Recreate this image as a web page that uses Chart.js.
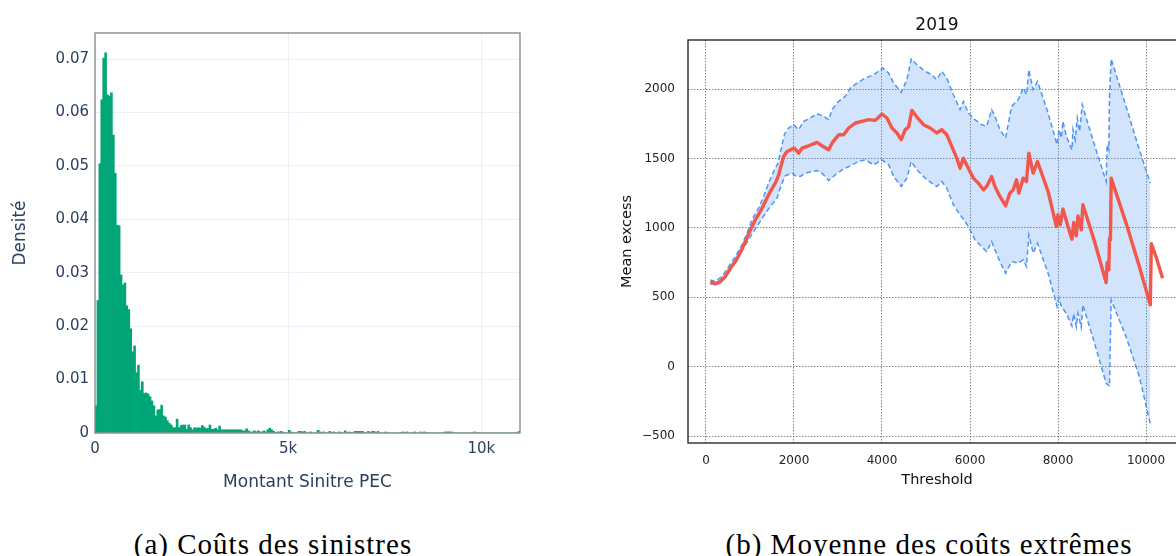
<!DOCTYPE html>
<html>
<head>
<meta charset="utf-8">
<script src="https://cdn.jsdelivr.net/npm/chart.js@4.4.0/dist/chart.umd.min.js"></script>
<style>
  html, body { margin: 0; padding: 0; background: #fff; overflow: hidden; }
  #page { position: relative; width: 1176px; height: 556px; overflow: hidden; }
  #histChart { position: absolute; left: 0; top: 0; }
  #excessChart { position: absolute; left: 600px; top: 0; }
  .caption {
    position: absolute; top: 528px; width: 500px; text-align: center;
    font-family: "Liberation Serif", serif; font-size: 29px; letter-spacing: 1px;
    line-height: 32px; color: #000;
  }
</style>
</head>
<body>
<div id="page">
  <canvas id="histChart" width="560" height="500"></canvas>
  <canvas id="excessChart" width="600" height="500"></canvas>
  <div class="caption" style="left: 23px;">(a) Coûts des sinistres</div>
  <div class="caption" style="left: 679px;">(b) Moyenne des coûts extrêmes</div>
</div>
<script>
// (a) histogram of claim amounts, bins of 50
const histBinWidth = 50;
const histDensity = [
  0.0051, 0.0248, 0.0504, 0.0624, 0.0702, 0.0712, 0.0633, 0.0631, 0.0637, 0.0558,
  0.0486, 0.0389, 0.0388, 0.0296, 0.0277, 0.0281, 0.0238, 0.0231, 0.0195, 0.0152,
  0.0163, 0.0113, 0.0127, 0.0080, 0.0096, 0.0074, 0.0075, 0.0073, 0.0068, 0.0060,
  0.0051, 0.0032, 0.0043, 0.0044, 0.0052, 0.0032, 0.0030, 0.0023, 0.0018, 0.0015,
  0.0010, 0.0010, 0.0026, 0.0010, 0.0014, 0.0015, 0.0015, 0.0007, 0.0015, 0.0010,
  0.0006, 0.0010, 0.0009, 0.0010, 0.0009, 0.0014, 0.0011, 0.0008, 0.0009, 0.0015,
  0.0007, 0.0007, 0.0009, 0.0006, 0.0013, 0.0006, 0.0006, 0.0006, 0.0006, 0.0006,
  0.0006, 0.0006, 0.0006, 0.0006, 0.0006, 0.0006, 0.0004, 0.0004, 0.0008, 0.0004,
  0.0002, 0.0002, 0.0004, 0.0002, 0.0004, 0.0002, 0.0002, 0.0004, 0.0002, 0.0006,
  0.0009, 0.0006, 0.0003, 0.0001, 0.0002, 0.0002, 0.0003, 0.0001, 0, 0,
  0.0005, 0.0002, 0, 0, 0, 0.0003, 0.0003, 0.0002, 0.0003, 0,
  0, 0.0002, 0, 0, 0, 0.0005, 0.0002, 0, 0.0002, 0,
  0, 0.0003, 0, 0.0002, 0, 0, 0.0002, 0, 0, 0.0004,
  0, 0.0002, 0, 0, 0.0003, 0.0003, 0.0003, 0.0003, 0.0003, 0,
  0, 0.0003, 0, 0.0003, 0.0003, 0, 0.0003, 0, 0, 0,
  0.0002, 0, 0, 0, 0, 0, 0, 0, 0, 0.0002,
  0, 0.0002, 0, 0, 0, 0.0002, 0, 0, 0.0002, 0,
  0.0002, 0, 0, 0, 0, 0, 0, 0, 0, 0,
  0, 0.0002, 0.0002, 0.0002, 0.0002, 0, 0, 0, 0, 0,
  0, 0, 0, 0, 0, 0, 0.0002, 0, 0, 0,
  0, 0, 0, 0, 0, 0, 0, 0, 0, 0,
  0, 0, 0, 0, 0, 0, 0, 0, 0, 0.0003
];
const histXTicks = [0, 5000, 10000];
const histXTickLabels = ['0', '5k', '10k'];
const histYTicks = [0, 0.01, 0.02, 0.03, 0.04, 0.05, 0.06, 0.07];
const histYTickLabels = ['0', '0.01', '0.02', '0.03', '0.04', '0.05', '0.06', '0.07'];

// (b) mean excess plot, 2019
const meanThresholds = [
  98, 212, 326, 439, 553, 667, 780, 894, 1008, 1121, 1235, 1348, 1462, 1576, 1652, 1712, 1765, 1841,
  1955, 2008, 2106, 2182, 2333, 2523, 2636, 2788, 2864, 3015, 3129, 3242, 3394, 3546, 3697, 3848,
  4000, 4113, 4226, 4340, 4438, 4529, 4604, 4680, 4793, 4944, 5095, 5246, 5359, 5472, 5586, 5699,
  5774, 5850, 5963, 6076, 6190, 6303, 6378, 6492, 6567, 6680, 6809, 6907, 6982, 7058, 7111, 7209,
  7284, 7337, 7435, 7533, 7775, 7962, 8000, 8053, 8113, 8226, 8317, 8355, 8415, 8453, 8528, 8566,
  8830, 9094, 9117, 9155, 9170, 9192, 9208, 9547, 9849, 10098, 10121, 10226, 10377
];
const meanExcess = [
  613, 596, 613, 649, 709, 757, 822, 901, 985, 1058, 1118, 1190, 1262, 1322, 1382, 1454, 1514, 1550,
  1567, 1574, 1538, 1574, 1591, 1615, 1591, 1562, 1610, 1671, 1671, 1719, 1755, 1767, 1779, 1774,
  1820, 1791, 1719, 1683, 1635, 1707, 1726, 1846, 1798, 1743, 1719, 1683, 1707, 1671, 1587, 1502,
  1430, 1502, 1430, 1358, 1322, 1274, 1298, 1370, 1298, 1226, 1159, 1250, 1274, 1346, 1250, 1358,
  1334, 1538, 1394, 1478, 1262, 1010, 1094, 1022, 1135, 1010, 918, 1038, 942, 1086, 986, 1166,
  901, 606, 750, 697, 925, 913, 1358, 1034, 721, 445, 885, 793, 637
];
const upperThresholds = [
  98, 212, 364, 515, 667, 818, 932, 1045, 1197, 1311, 1424, 1538, 1636, 1712, 1788, 1879, 1992, 2106,
  2220, 2371, 2523, 2674, 2788, 2864, 3015, 3167, 3280, 3432, 3621, 3811, 4015, 4151, 4264, 4438,
  4566, 4664, 4793, 4982, 5133, 5246, 5359, 5472, 5623, 5774, 5850, 5963, 6114, 6265, 6378, 6492,
  6567, 6680, 6809, 6945, 7096, 7209, 7284, 7337, 7435, 7533, 7775, 7977, 8023, 8075, 8113, 8189,
  8317, 8340, 8392, 8438, 8491, 8551, 8792, 9094, 9117, 9155, 9170, 9208, 9547, 9849, 10098
];
const upperCI = [
  625, 613, 649, 721, 793, 877, 961, 1058, 1142, 1226, 1322, 1406, 1466, 1574, 1678, 1719, 1743, 1707,
  1767, 1791, 1822, 1803, 1779, 1851, 1911, 1947, 2007, 2043, 2079, 2103, 2151, 2115, 2043, 1976,
  2067, 2216, 2175, 2127, 2103, 2067, 2127, 2079, 1959, 1851, 1911, 1827, 1779, 1743, 1731, 1851,
  1803, 1707, 1647, 1875, 1923, 2007, 1959, 2139, 1995, 2055, 1827, 1599, 1707, 1647, 1767, 1659,
  1562, 1707, 1635, 1791, 1695, 1887, 1635, 1334, 1599, 1562, 1947, 2216, 1875, 1562, 1322
];
const lowerThresholds = [
  98, 250, 402, 553, 705, 856, 1008, 1159, 1311, 1462, 1614, 1712, 1803, 1955, 2030, 2144, 2258, 2523,
  2636, 2788, 2939, 3091, 3280, 3470, 3621, 3811, 4000, 4151, 4264, 4438, 4566, 4664, 4793, 4982,
  5133, 5246, 5359, 5472, 5623, 5774, 5888, 6001, 6114, 6265, 6378, 6492, 6567, 6680, 6809, 6945,
  7096, 7209, 7284, 7337, 7435, 7533, 7775, 7977, 8023, 8075, 8189, 8317, 8355, 8415, 8453, 8528,
  8566, 8830, 9094, 9170, 9208, 9547, 9849, 10098
];
const lowerCI = [
  596, 589, 625, 692, 769, 853, 937, 1010, 1086, 1154, 1214, 1310, 1375, 1394, 1375, 1370, 1394, 1413,
  1394, 1341, 1382, 1418, 1447, 1478, 1490, 1454, 1490, 1454, 1370, 1298, 1358, 1478, 1418, 1358,
  1322, 1298, 1334, 1286, 1166, 1094, 1046, 986, 913, 865, 829, 901, 841, 757, 673, 757,
  745, 769, 721, 949, 817, 889, 673, 433, 493, 433, 385, 293, 380, 288, 385, 284,
  445, 168, -120, -140, 481, 216, -72, -414
];
const excessXTicks = [0, 2000, 4000, 6000, 8000, 10000];
const excessXTickLabels = ['0', '2000', '4000', '6000', '8000', '10000'];
const excessYTicks = [-500, 0, 500, 1000, 1500, 2000];
const excessYTickLabels = ['\u2212500', '0', '500', '1000', '1500', '2000'];

// stroke a box around the plotting area
const plotFrame = {
  id: 'plotFrame',
  afterDatasetsDraw(chart, args, opts) {
    const { ctx, chartArea: a } = chart;
    ctx.save();
    ctx.strokeStyle = opts.color;
    ctx.lineWidth = opts.width;
    ctx.strokeRect(a.left, a.top, a.right - a.left, a.bottom - a.top);
    ctx.restore();
  }
};

const pairs = (xs, ys) => xs.map((x, i) => ({ x: x, y: ys[i] }));

// ---- left: histogram ----
const plotlyFont = { family: 'DejaVu Sans', size: 15 };
new Chart(document.getElementById('histChart').getContext('2d'), {
  type: 'bar',
  data: {
    datasets: [{
      data: histDensity.map((d, i) => ({ x: i * histBinWidth + histBinWidth / 2, y: d })),
      backgroundColor: '#00a676',
      borderWidth: 0,
      barPercentage: 1,
      categoryPercentage: 1
    }]
  },
  options: {
    responsive: false,
    animation: false,
    devicePixelRatio: 1,
    layout: { padding: { top: 33, right: 40, left: 0, bottom: 0 } },
    plugins: {
      legend: { display: false },
      tooltip: { enabled: false },
      plotFrame: { color: '#8a8a8a', width: 1.4 }
    },
    scales: {
      x: {
        type: 'linear',
        min: 0,
        max: 11000,
        offset: false,
        afterBuildTicks: s => { s.ticks = histXTicks.map(v => ({ value: v })); },
        afterFit: s => { s.height = 67; },
        grid: { offset: false, drawTicks: false, color: c => (c.tick && c.tick.value === 0) ? 'rgba(0,0,0,0)' : '#ebf0f8', lineWidth: 1 },
        border: { display: false },
        ticks: {
          autoSkip: false, maxRotation: 0, padding: 7, color: '#2a3f5f', font: plotlyFont,
          callback: (v, i) => histXTickLabels[i]
        },
        title: {
          display: true, text: 'Montant Sinitre PEC', color: '#2a3f5f',
          font: { family: 'DejaVu Sans', size: 17 }, padding: { top: 0, bottom: 7 }
        }
      },
      y: {
        min: 0,
        max: 0.0749,
        afterBuildTicks: s => { s.ticks = histYTicks.map(v => ({ value: v })); },
        afterFit: s => { s.width = 95; },
        grid: { drawTicks: false, color: c => (c.tick && c.tick.value === 0) ? 'rgba(0,0,0,0)' : '#ebf0f8', lineWidth: 1 },
        border: { display: false },
        ticks: {
          autoSkip: false, padding: 6, color: '#2a3f5f', font: plotlyFont,
          callback: (v, i) => histYTickLabels[i]
        },
        title: {
          display: true, text: 'Densité', color: '#2a3f5f',
          font: { family: 'DejaVu Sans', size: 17 }, padding: { top: 10, bottom: 0 }
        }
      }
    }
  },
  plugins: [plotFrame]
});

// ---- right: mean excess ----
const mplTickFont = { family: 'DejaVu Sans', size: 12 };
const mplLabelFont = { family: 'DejaVu Sans', size: 14.5 };
const mplGrid = { drawTicks: false, color: '#777', lineWidth: 0.9 };
new Chart(document.getElementById('excessChart').getContext('2d'), {
  type: 'line',
  data: {
    datasets: [
      {
        label: 'Mean excess',
        data: pairs(meanThresholds, meanExcess),
        borderColor: '#f3574b',
        borderWidth: 3.4,
        pointRadius: 0,
        tension: 0,
        fill: false,
        borderJoinStyle: 'round'
      },
      {
        label: 'Upper',
        data: pairs(upperThresholds, upperCI),
        borderColor: '#4d96f5',
        borderWidth: 1.5,
        borderDash: [5, 3],
        pointRadius: 0,
        tension: 0,
        fill: false
      },
      {
        label: 'Lower',
        data: pairs(lowerThresholds, lowerCI),
        borderColor: '#4d96f5',
        borderWidth: 1.5,
        borderDash: [5, 3],
        pointRadius: 0,
        tension: 0,
        fill: '-1',
        backgroundColor: 'rgba(75,143,243,0.25)'
      }
    ]
  },
  options: {
    responsive: false,
    animation: false,
    devicePixelRatio: 1,
    layout: { padding: { top: 0, right: 14, left: 0, bottom: 0 } },
    plugins: {
      legend: { display: false },
      tooltip: { enabled: false },
      title: {
        display: true, text: '2019', fullSize: false, color: '#111',
        font: { family: 'DejaVu Sans', size: 17, weight: 'normal' },
        padding: { top: 15, bottom: 4.6 }
      },
      plotFrame: { color: '#1a1a1a', width: 1.3 }
    },
    scales: {
      x: {
        type: 'linear',
        min: -409,
        max: 10909,
        afterBuildTicks: s => { s.ticks = excessXTicks.map(v => ({ value: v })); },
        afterFit: s => { s.height = 57; },
        grid: mplGrid,
        border: { display: false, dash: [1.5, 1.5] },
        ticks: {
          autoSkip: false, maxRotation: 0, padding: 11, color: '#222', font: mplTickFont,
          callback: (v, i) => excessXTickLabels[i]
        },
        title: {
          display: true, text: 'Threshold', color: '#111', font: mplLabelFont,
          padding: { top: 0, bottom: 11 }
        }
      },
      y: {
        min: -550,
        max: 2353,
        afterBuildTicks: s => { s.ticks = excessYTicks.map(v => ({ value: v })); },
        afterFit: s => { s.width = 88; },
        grid: mplGrid,
        border: { display: false, dash: [1.5, 1.5] },
        ticks: {
          autoSkip: false, padding: 13, color: '#222', font: mplTickFont,
          callback: (v, i) => excessYTickLabels[i]
        },
        title: {
          display: true, text: 'Mean excess', color: '#111', font: mplLabelFont,
          padding: { top: 19, bottom: 0 }
        }
      }
    }
  },
  plugins: [plotFrame]
});
</script>
</body>
</html>
